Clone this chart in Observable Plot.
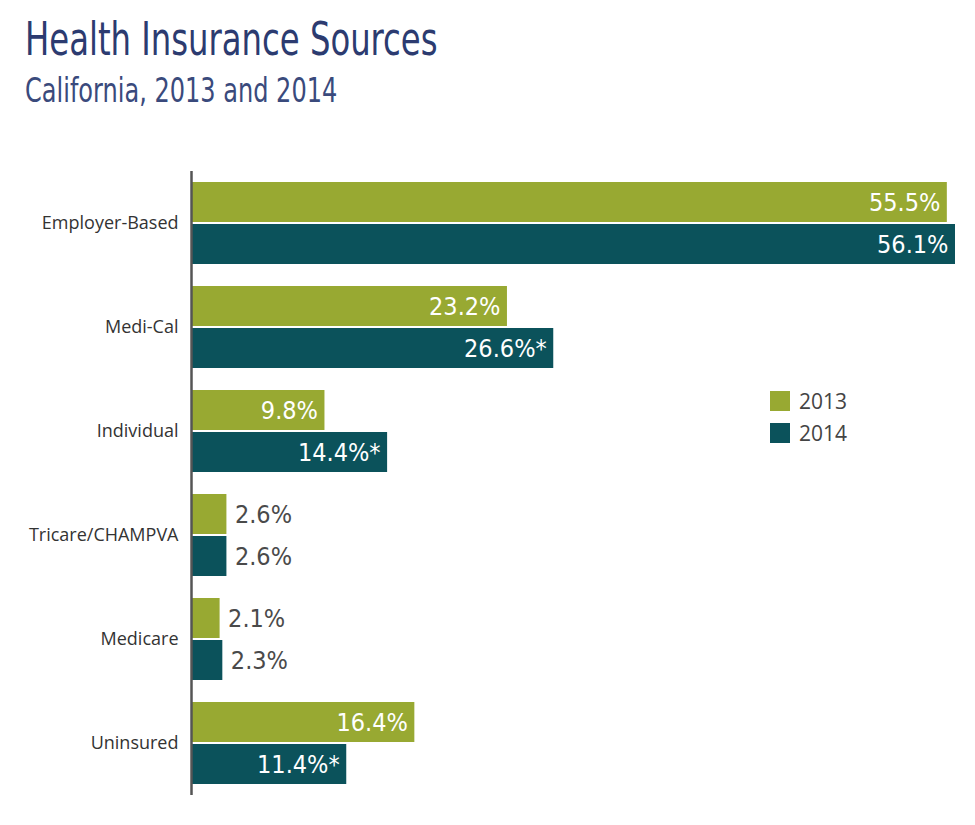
<!DOCTYPE html>
<html>
<head>
<meta charset="utf-8">
<script src="https://cdn.jsdelivr.net/npm/d3@7"></script>
<script src="https://cdn.jsdelivr.net/npm/@observablehq/plot@0.6"></script>
<style>
  html, body { margin: 0; padding: 0; background: #fff; }
  #page { position: relative; width: 975px; height: 825px; overflow: hidden; }
  #title { position: absolute; left: 25px; top: 16px; font-family: "DejaVu Sans Condensed", "DejaVu Sans", sans-serif; font-stretch: condensed; font-size: 46px; line-height: 46px; color: #2C3B70; white-space: nowrap; transform-origin: 0 0; transform: scaleX(0.78); }
  #subtitle { position: absolute; left: 25px; top: 74px; font-family: "DejaVu Sans Condensed", "DejaVu Sans", sans-serif; font-stretch: condensed; font-size: 33px; line-height: 33px; color: #3A4A7C; white-space: nowrap; transform-origin: 0 0; transform: scaleX(0.81); }
  #chart { position: absolute; left: 0; top: 160px; }
  #legend { position: absolute; left: 770px; top: 385px; font-family: "Open Sans", sans-serif; font-size: 21px; color: #444; }
  .sw { display: flex; align-items: center; height: 32px; }
  .sw span.box { display: inline-block; width: 20px; height: 20px; margin-right: 9px; }
  .sw span.lab { line-height: 20px; }
</style>
</head>
<body>
<div id="page">
  <div id="title">Health Insurance Sources</div>
  <div id="subtitle">California, 2013 and 2014</div>
  <div id="chart"></div>
  <div id="legend"></div>
</div>
<script>
const categories = ["Employer-Based", "Medi-Cal", "Individual", "Tricare/CHAMPVA", "Medicare", "Uninsured"];
const years = ["2013", "2014"];
const values2013 = [55.5, 23.2, 9.8, 2.6, 2.1, 16.4];
const values2014 = [56.1, 26.6, 14.4, 2.6, 2.3, 11.4];
const significant2014 = [false, true, true, false, false, true];
const colors = ["#98A932", "#0B525B"];

const rows = categories.flatMap((c, i) => [
  {category: c, year: "2013", key: c + "|2013", value: values2013[i], label: values2013[i].toFixed(1) + "%"},
  {category: c, year: "2014", key: c + "|2014", value: values2014[i], label: values2014[i].toFixed(1) + "%" + (significant2014[i] ? "*" : "")}
]);
const keys = rows.map(d => d.key);
const r13 = rows.filter(d => d.year === "2013");
const r14 = rows.filter(d => d.year === "2014");
const inside = d => d.value > 5;

const valueFont = {fontFamily: "DejaVu Sans Condensed, DejaVu Sans, sans-serif", fontSize: 25};

const chart = Plot.plot({
  width: 975,
  height: 665,
  marginLeft: 191,
  marginRight: 20,
  marginTop: 11,
  marginBottom: 30,
  style: {fontFamily: "Open Sans, sans-serif", background: "transparent"},
  x: {domain: [0, 56.1], axis: null},
  y: {domain: keys, padding: 0, axis: null},
  marks: [
    Plot.barX(r13, {x: "value", y: "key", fill: colors[0], insetTop: 11, insetBottom: 1}),
    Plot.barX(r14, {x: "value", y: "key", fill: colors[1], insetTop: 1, insetBottom: 11}),
    Plot.text(r13.filter(inside), {x: "value", y: "key", text: "label", textAnchor: "end", dx: -7, dy: 5, fill: "white", ...valueFont}),
    Plot.text(r14.filter(inside), {x: "value", y: "key", text: "label", textAnchor: "end", dx: -7, dy: -5, fill: "white", ...valueFont}),
    Plot.text(r13.filter(d => !inside(d)), {x: "value", y: "key", text: "label", textAnchor: "start", dx: 8, dy: 5, fill: "#4a4a4a", ...valueFont}),
    Plot.text(r14.filter(d => !inside(d)), {x: "value", y: "key", text: "label", textAnchor: "start", dx: 8, dy: -5, fill: "#4a4a4a", ...valueFont}),
    Plot.ruleX([0], {stroke: "#555", strokeWidth: 2.5}),
    Plot.text(categories, {y: d => d + "|2014", text: d => d, frameAnchor: "left", textAnchor: "end", dx: -13, dy: -26, fill: "#333", fontSize: 18})
  ]
});
document.getElementById("chart").appendChild(chart);

const legend = document.getElementById("legend");
years.forEach((y, i) => {
  const row = document.createElement("div");
  row.className = "sw";
  const box = document.createElement("span");
  box.className = "box";
  box.style.background = colors[i];
  const lab = document.createElement("span");
  lab.className = "lab";
  lab.textContent = y;
  row.appendChild(box);
  row.appendChild(lab);
  legend.appendChild(row);
});
</script>
</body>
</html>
